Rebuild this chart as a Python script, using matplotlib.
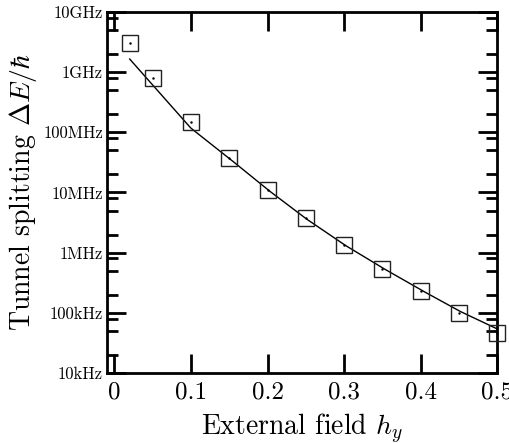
import numpy as np
import matplotlib
matplotlib.use("Agg")
from matplotlib import pyplot as plt
from matplotlib.ticker import FixedLocator, LogLocator, NullFormatter

# measured tunnel splittings (squares)
h_data = [0.02, 0.05, 0.1, 0.15, 0.2, 0.25, 0.3, 0.35, 0.4, 0.45, 0.5]
dE_data = [3.0e9, 8.0e8, 1.5e8, 3.7e7, 1.12e7, 3.7e6, 1.36e6, 5.4e5, 2.27e5, 1.01e5, 4.6e4]

# theory curve
h_fit = [0.02, 0.05, 0.1, 0.15, 0.2, 0.25, 0.3, 0.35, 0.4, 0.45, 0.5]
dE_fit = [1.65e9, 6.1e8, 1.17e8, 3.69e7, 1.12e7, 3.69e6, 1.36e6, 5.6e5, 2.42e5, 1.08e5, 5.4e4]

y_ticks = [1e4, 1e5, 1e6, 1e7, 1e8, 1e9, 1e10]
y_labels = ["10kHz", "100kHz", "1MHz", "10MHz", "100MHz", "1GHz", "10GHz"]
x_ticks = [0, 0.1, 0.2, 0.3, 0.4, 0.5]
x_labels = ["0", "0.1", "0.2", "0.3", "0.4", "0.5"]

plt.rcParams["font.family"] = "serif"
plt.rcParams["font.serif"] = ["cmr10"]
plt.rcParams["mathtext.fontset"] = "cm"
plt.rcParams["axes.formatter.use_mathtext"] = True

fig = plt.figure(figsize=(5.1, 4.43), dpi=100)
ax = fig.add_axes([0.21, 0.158, 0.765, 0.815])

# smooth the curve a little in log space
hs = np.linspace(h_fit[0], h_fit[-1], 200)
ax.plot(hs, 10 ** np.interp(hs, h_fit, np.log10(dE_fit)), color="black", lw=1.0)

ax.plot(h_data, dE_data, ls="none", marker="s", ms=11, mfc="none",
        mec="#222222", mew=1.0, clip_on=False, zorder=3)
ax.plot(h_data, dE_data, ls="none", marker=".", ms=1.5, color="black",
        clip_on=False, zorder=3)

ax.set_yscale("log")
ax.set_xlim(-0.0095, 0.5)
ax.set_ylim(1e4, 1e10)

ax.xaxis.set_major_locator(FixedLocator(x_ticks))
ax.set_xticklabels(x_labels, fontsize=18)
ax.yaxis.set_major_locator(FixedLocator(y_ticks))
ax.set_yticklabels(y_labels, fontsize=12)
ax.yaxis.set_minor_locator(LogLocator(base=10, subs=[2, 5, 8]))
ax.yaxis.set_minor_formatter(NullFormatter())

ax.tick_params(which="both", direction="in", top=True, right=True, width=2)
ax.tick_params(which="major", length=14)
ax.tick_params(which="minor", length=8)
ax.tick_params(axis="x", pad=6)
ax.tick_params(axis="y", pad=3)
for sp in ax.spines.values():
    sp.set_linewidth(2)

ax.set_xlabel(r"External field $h_y$", fontsize=20, labelpad=6)
ax.set_ylabel(r"Tunnel splitting $\Delta E/\hbar$", fontsize=20, labelpad=3)

fig.savefig("out.png", dpi=100)
